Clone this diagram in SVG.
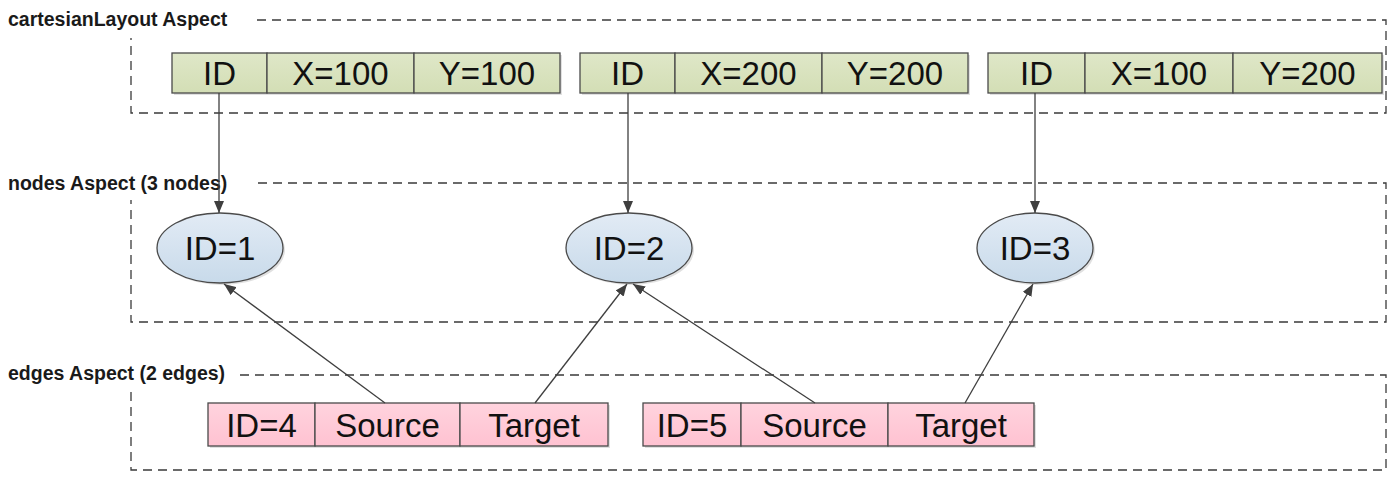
<svg xmlns="http://www.w3.org/2000/svg" width="1397" height="478" viewBox="0 0 1397 478">
<style>
.lbl{font-family:"Liberation Sans",Arial,sans-serif;font-weight:bold;font-size:19.5px;fill:#1a1a1a}
.frame{fill:none;stroke:#3a3a3a;stroke-width:1.3;stroke-dasharray:9,6}
.txt{font-family:"Liberation Sans",Arial,sans-serif;font-size:33px;fill:#111;text-anchor:middle}
.cell-g{fill:url(#gg);stroke:#4a4a4a;stroke-width:1.3}
.cell-p{fill:url(#gp);stroke:#4a4a4a;stroke-width:1.3}
.ell{fill:url(#gb);stroke:#4a4a4a;stroke-width:1.3}
.conn{stroke:#3f3f3f;stroke-width:1.3;fill:none;marker-end:url(#ah)}
.sh{fill:#000;opacity:0.12}
</style>
<defs>
<linearGradient id="gg" x1="0" y1="0" x2="0" y2="1"><stop offset="0" stop-color="#dfe7c8"/><stop offset="1" stop-color="#d3deb5"/></linearGradient>
<linearGradient id="gp" x1="0" y1="0" x2="0" y2="1"><stop offset="0" stop-color="#ffd3de"/><stop offset="1" stop-color="#ffc2d1"/></linearGradient>
<linearGradient id="gb" x1="0" y1="0" x2="0" y2="1"><stop offset="0" stop-color="#e2ebf5"/><stop offset="1" stop-color="#c8daea"/></linearGradient>
<marker id="ah" viewBox="0 0 12 10" refX="12" refY="5" markerWidth="12" markerHeight="10" markerUnits="userSpaceOnUse" orient="auto"><path d="M0,0 L12,5 L0,10 z" fill="#3f3f3f"/></marker>
</defs>

<g id="aspect-cartesian">
<text class="lbl" x="8" y="26">cartesianLayout Aspect</text>
<path class="frame" d="M257,20 H1386 V113 H131 V38"/>
</g>
<g id="aspect-nodes">
<text class="lbl" x="8" y="190">nodes Aspect (3 nodes)</text>
<path class="frame" d="M258,183 H1386 V322 H131 V200"/>
</g>
<g id="aspect-edges">
<text class="lbl" x="8" y="380">edges Aspect (2 edges)</text>
<path class="frame" d="M240,375 H1386 V470 H131 V392"/>
</g>

<g id="layout1">
<rect class="sh" x="174" y="55" width="388" height="40"/>
<rect class="cell-g" x="172" y="53" width="95" height="40"/>
<rect class="cell-g" x="267" y="53" width="147" height="40"/>
<rect class="cell-g" x="414" y="53" width="146" height="40"/>
<text class="txt" x="219.5" y="85">ID</text>
<text class="txt" x="340.5" y="85">X=100</text>
<text class="txt" x="487" y="85">Y=100</text>
</g>
<g id="layout2">
<rect class="sh" x="582" y="55" width="388" height="40"/>
<rect class="cell-g" x="580" y="53" width="95" height="40"/>
<rect class="cell-g" x="675" y="53" width="147" height="40"/>
<rect class="cell-g" x="822" y="53" width="146" height="40"/>
<text class="txt" x="627.5" y="85">ID</text>
<text class="txt" x="748.5" y="85">X=200</text>
<text class="txt" x="895" y="85">Y=200</text>
</g>
<g id="layout3">
<rect class="sh" x="990" y="55" width="394" height="40"/>
<rect class="cell-g" x="988" y="53" width="97" height="40"/>
<rect class="cell-g" x="1085" y="53" width="148" height="40"/>
<rect class="cell-g" x="1233" y="53" width="149" height="40"/>
<text class="txt" x="1036.5" y="85">ID</text>
<text class="txt" x="1159" y="85">X=100</text>
<text class="txt" x="1307.5" y="85">Y=200</text>
</g>

<g id="node1">
<ellipse class="sh" cx="222" cy="250" rx="63" ry="35"/>
<ellipse class="ell" cx="220" cy="248" rx="63" ry="35"/>
<text class="txt" x="220" y="260">ID=1</text>
</g>
<g id="node2">
<ellipse class="sh" cx="631" cy="250" rx="63" ry="35"/>
<ellipse class="ell" cx="629" cy="248" rx="63" ry="35"/>
<text class="txt" x="629" y="260">ID=2</text>
</g>
<g id="node3">
<ellipse class="sh" cx="1037" cy="250" rx="58" ry="35"/>
<ellipse class="ell" cx="1035" cy="248" rx="58" ry="35"/>
<text class="txt" x="1035" y="260">ID=3</text>
</g>

<g id="edge4">
<rect class="sh" x="210" y="405" width="400" height="43"/>
<rect class="cell-p" x="208" y="403" width="107" height="43"/>
<rect class="cell-p" x="315" y="403" width="145" height="43"/>
<rect class="cell-p" x="460" y="403" width="148" height="43"/>
<text class="txt" x="261.5" y="437">ID=4</text>
<text class="txt" x="387.5" y="437">Source</text>
<text class="txt" x="534" y="437">Target</text>
</g>
<g id="edge5">
<rect class="sh" x="645" y="405" width="391" height="43"/>
<rect class="cell-p" x="643" y="403" width="98" height="43"/>
<rect class="cell-p" x="741" y="403" width="147" height="43"/>
<rect class="cell-p" x="888" y="403" width="146" height="43"/>
<text class="txt" x="692" y="437">ID=5</text>
<text class="txt" x="814.5" y="437">Source</text>
<text class="txt" x="961" y="437">Target</text>
</g>

<g id="connectors">
<line class="conn" x1="219" y1="93" x2="219" y2="213"/>
<line class="conn" x1="628" y1="93" x2="628" y2="213"/>
<line class="conn" x1="1035" y1="93" x2="1035" y2="213"/>
<line class="conn" x1="385" y1="403" x2="224" y2="284"/>
<line class="conn" x1="535" y1="403" x2="627" y2="284"/>
<line class="conn" x1="815" y1="403" x2="633" y2="284"/>
<line class="conn" x1="965" y1="403" x2="1033" y2="284"/>
</g>
</svg>
